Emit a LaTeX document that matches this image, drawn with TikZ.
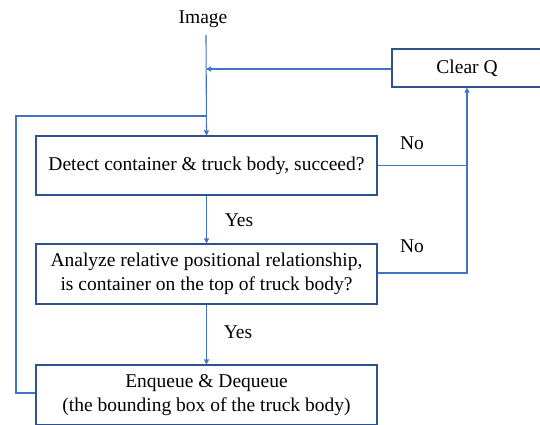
\documentclass[tikz,border=0pt]{standalone}
\usepackage{fontspec}
\setmainfont{Liberation Serif}
\usetikzlibrary{arrows.meta}
\definecolor{boxline}{HTML}{2F528F}
\definecolor{conn}{HTML}{4472C4}
\begin{document}
\begin{tikzpicture}[x=1pt,y=-1pt,
  every node/.style={font=\fontsize{19.5}{24.5}\selectfont, inner sep=0pt},
  box/.style={draw=boxline, line width=1.1pt, fill=white, minimum width=341pt, minimum height=59pt, align=center},
  cbox/.style={draw=boxline, line width=1.1pt, fill=white, minimum width=150pt, minimum height=38pt},
  arr/.style={draw=conn, line width=1.1pt, -{Triangle[length=5pt,width=5pt]}},
  ln/.style={draw=conn, line width=1.1pt}]
\useasboundingbox (0,0) rectangle (540,424);
\node (img) at (203,19) {Image};
\coordinate (imgb) at (206,35);
\node[cbox] (clr) at (467,68) {Clear Q};
\node[box] (b1) at (206.5,165.5) {Detect container \& truck body, succeed?};
\node[box, minimum height=60pt] (b2) at (206.5,274) {Analyze relative positional relationship,\\is container on the top of truck body?};
\node[box, minimum height=60pt] (b3) at (206.5,395) {Enqueue \& Dequeue\\(the bounding box of the truck body)};
\coordinate (j1) at (206,69);
\coordinate (j2) at (206,116);
\coordinate (r) at (467,165.7);
\draw[arr] (imgb) -- (b1.north);
\draw[arr] (clr.west |- j1) -- (j1);
\draw[ln] (b3.west |- 0,393) -| (16,116) -- (j2);
\draw[ln] (b1.east |- r) -- (r);
\draw[arr] (b2.east |- 0,273) -| (clr.south);
\draw[arr] (b1.south) -- (b2.north);
\draw[arr] (b2.south) -- (b3.north);
\node at (412,143) {No};
\node at (412,246) {No};
\node at (239,220) {Yes};
\node at (238,332) {Yes};
\end{tikzpicture}
\end{document}
